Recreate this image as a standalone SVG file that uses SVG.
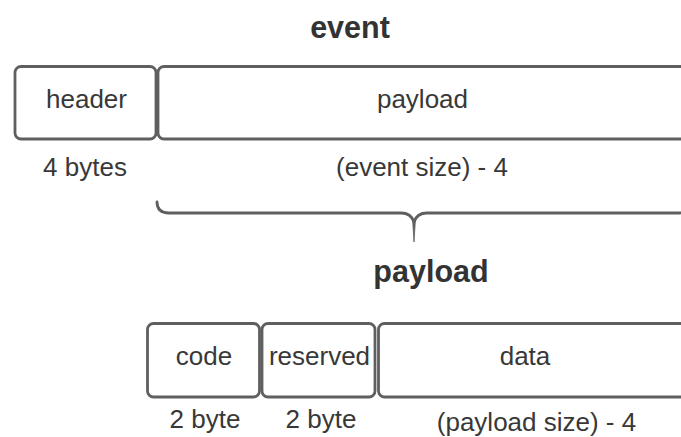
<svg xmlns="http://www.w3.org/2000/svg" width="681" height="437" viewBox="0 0 681 437">
<style>
.box{fill:#fff;stroke:#5f5f5f;stroke-width:2.8}
.t{font-family:"Liberation Sans",Arial,sans-serif;font-size:26px;fill:#383838;text-anchor:middle}
.h{font-family:"Liberation Sans",Arial,sans-serif;font-size:30.5px;font-weight:bold;fill:#333;text-anchor:middle}
.br{fill:none;stroke:#5f5f5f;stroke-width:2.8;stroke-linecap:round;stroke-linejoin:round}
</style>
<rect width="681" height="437" fill="#fff"/>
<text class="h" x="350" y="38">event</text>
<g id="header">
<rect class="box" x="15" y="66.5" width="141" height="72.5" rx="6"/>
<text class="t" x="86.5" y="108">header</text>
</g>
<g id="payload">
<rect class="box" x="158" y="66.5" width="600" height="72.5" rx="6"/>
<text class="t" x="422.5" y="108">payload</text>
</g>
<text class="t" x="85" y="175.5">4 bytes</text>
<text class="t" x="422" y="175.5">(event size) - 4</text>
<g id="connectors">
<path class="br" d="M157,202 Q157,213 169,213 H401 Q411,213 414,222 Q417,213 427,213 H678 Q688,213 688,202"/>
<path d="M412.6,220 L414,242 L415.4,220 Z" fill="#5f5f5f" stroke="#5f5f5f" stroke-width="0.8" stroke-linejoin="round"/>
</g>
<text class="h" x="431" y="282">payload</text>
<g id="code">
<rect class="box" x="147.5" y="323.5" width="112" height="73.5" rx="6"/>
<text class="t" x="204" y="365">code</text>
</g>
<g id="reserved">
<rect class="box" x="262" y="323.5" width="113" height="73.5" rx="6"/>
<text class="t" x="319.5" y="365">reserved</text>
</g>
<g id="data">
<rect class="box" x="378.5" y="323.5" width="400" height="73.5" rx="6"/>
<text class="t" x="525" y="365">data</text>
</g>
<text class="t" x="205" y="427.5">2 byte</text>
<text class="t" x="321" y="427.5">2 byte</text>
<text class="t" x="536.5" y="430.5">(payload size) - 4</text>
</svg>
